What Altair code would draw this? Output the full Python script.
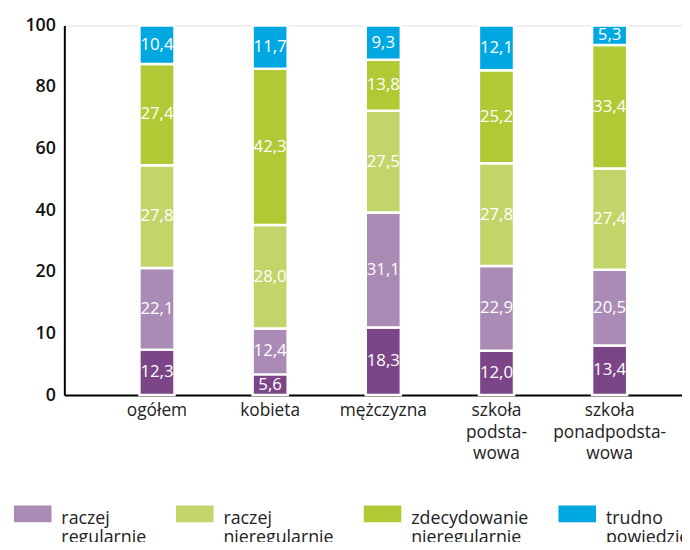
import altair as alt
import pandas as pd

categories = ["ogółem", "kobieta", "mężczyzna", "szkoła|podsta-|wowa", "szkoła|ponadpodsta-|wowa"]
series = ["regularnie", "raczej regularnie", "raczej nieregularnie", "zdecydowanie nieregularnie", "trudno powiedzieć"]
colors = ["#7b4587", "#a98bb5", "#c3d56a", "#b0ca35", "#00a8e2"]
v_regularnie = [12.3, 5.6, 18.3, 12.0, 13.4]
v_raczej_reg = [22.1, 12.4, 31.1, 22.9, 20.5]
v_raczej_niereg = [27.8, 28.0, 27.5, 27.8, 27.4]
v_zdec_niereg = [27.4, 42.3, 13.8, 25.2, 33.4]
v_trudno = [10.4, 11.7, 9.3, 12.1, 5.3]
y_tick_labels = ["0", "10", "20", "40", "60", "80", "100"]
legend_labels = ["raczej|regularnie", "raczej|nieregularnie", "zdecydowanie|nieregularnie", "trudno|powiedzieć"]

rows = []
for si, vals in enumerate([v_regularnie, v_raczej_reg, v_raczej_niereg, v_zdec_niereg, v_trudno]):
    for ci, c in enumerate(categories):
        rows.append({"cat": c, "series": series[si], "order": si, "value": vals[ci]})
df = pd.DataFrame(rows)

FONT = "Open Sans"
tick_vals = [i * 100 / 6 for i in range(7)]
label_expr = "[" + ",".join("'%s'" % t for t in y_tick_labels) + "][round(datum.value*0.06)]"
leg_map = "{" + ",".join("'%s':'%s'" % (series[i + 1], legend_labels[i]) for i in range(4)) + "}"

base = alt.Chart(df).transform_stack(
    stack="value", groupby=["cat"], sort=[alt.SortField("order")], as_=["y0", "y1"]
).transform_calculate(
    mid="(datum.y0 + datum.y1) / 2",
    lbl="replace(format(datum.value, '.1f'), '.', ',')",
)

xenc = alt.X(
    "cat:N", sort=categories, title=None,
    scale=alt.Scale(paddingInner=0.69, paddingOuter=0.574, align=0.578),
    axis=alt.Axis(labelExpr="split(datum.label, '|')", labelAngle=0, ticks=False,
                  domainColor="#000000", domainWidth=2, labelFont=FONT, labelFontSize=17.5,
                  labelColor="#222222", labelPadding=7, labelLineHeight=21.5, labelBaseline="top"),
)

bars = base.mark_bar(stroke="white", strokeWidth=2.5).encode(
    x=xenc,
    y=alt.Y("y0:Q", title=None, scale=alt.Scale(domain=[0, 100], nice=False),
            axis=alt.Axis(values=tick_vals, labelExpr=label_expr, ticks=False, grid=False,
                          domainColor="#000000", domainWidth=2, labelFont=FONT, labelFontSize=18,
                          labelFontWeight=600, labelColor="#111111", labelPadding=9)),
    y2="y1:Q",
    color=alt.Color("series:N", scale=alt.Scale(domain=series, range=colors),
                    legend=alt.Legend(values=series[1:], orient="none", legendX=-51, legendY=471,
                                      direction="horizontal", columns=4, title=None,
                                      symbolType="M-1,-0.24H1V0.66H-1Z", symbolSize=1444,
                                      symbolStrokeWidth=0, labelFont=FONT, labelFontSize=18,
                                      labelColor="#222222", labelOffset=10, columnPadding=30,
                                      labelLimit=300, labelBaseline="top",
                                      labelExpr="split(" + leg_map + "[datum.label], '|')")),
)

texts = base.mark_text(color="white", font=FONT, fontSize=17, baseline="middle").encode(
    x=alt.X("cat:N", sort=categories),
    y=alt.Y("mid:Q"),
    text="lbl:N",
)

chart = alt.layer(bars, texts).properties(
    width=625, height=374,
    autosize=alt.AutoSizeParams(type="none"),
    padding={"left": 57, "top": 14.5, "right": 0, "bottom": 145.5},
).configure_view(stroke=None).configure(
    style={"guide-label": {"lineHeight": 19.5}}
)

chart.save("out.html", embed_options={"renderer": "svg", "actions": False})
